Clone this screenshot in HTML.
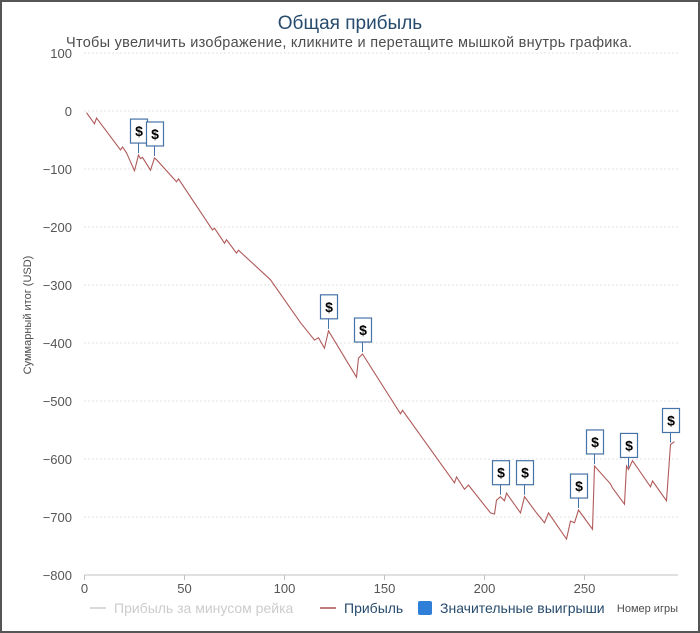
<!DOCTYPE html>
<html><head><meta charset="utf-8">
<style>
html,body{margin:0;padding:0;background:#fff;}
#wrap{position:relative;width:700px;height:633px;box-sizing:border-box;border:2px solid #555;overflow:hidden;font-family:"Liberation Sans","DejaVu Sans",sans-serif;}
svg{position:absolute;left:-2px;top:-2px;}
</style></head>
<body>
<div id="wrap">
<svg id="chart" width="700" height="633" viewBox="0 0 700 633">
  <text x="350" y="29" text-anchor="middle" font-size="19" fill="#274b6d">Общая прибыль</text>
  <text x="349" y="47" text-anchor="middle" font-size="14.5" fill="#4d4d4d" textLength="566">Чтобы увеличить изображение, кликните и перетащите мышкой внутрь графика.</text>
  <text transform="translate(31,315) rotate(-90)" text-anchor="middle" font-size="11" fill="#4d4d4d">Суммарный итог (USD)</text>
  <g id="grid"></g>
  <g id="yticks"></g>
  <g id="xticks"></g>
  <g id="series"></g>
  <g id="markers"></g>
  <g>
    <g>
      <line x1="90" y1="608" x2="106" y2="608" stroke="#ccc" stroke-width="1.5"/>
      <text x="114" y="613" font-size="14" fill="#ccc">Прибыль за минусом рейка</text>
    </g>
    <g>
      <line x1="320" y1="608" x2="336" y2="608" stroke="#a85050" stroke-width="1.5"/>
      <text x="344" y="613" font-size="14" fill="#274b6d">Прибыль</text>
    </g>
    <g>
      <rect x="418" y="601" width="14" height="14" rx="2" fill="#2f7ed8"/>
      <text x="440" y="613" font-size="14" fill="#274b6d">Значительные выигрыши</text>
    </g>
  </g>
  <text x="678" y="612" text-anchor="end" font-size="11" fill="#4d4d4d">Номер игры</text>
</svg>
</div>
<script>
const games  = [1,5,6,18,19,21,25,27,28,29,33,35,36,46,47,64,65,70,71,76,77,93,108,115,117,120,122,136,137,139,158,159,185,186,190,192,203,205,206,208,210,211,218,220,226,230,232,241,243,245,247,254,255,263,264,270,271,272,274,283,284,291,293,295];
const profit = [-3,-22,-12,-67,-62,-72,-103,-76,-82,-80,-102,-81,-84,-122,-117,-205,-202,-228,-222,-245,-240,-291,-365,-395,-391,-409,-379,-459,-426,-419,-522,-516,-641,-631,-652,-645,-693,-695,-671,-665,-672,-659,-693,-665,-693,-710,-693,-738,-707,-710,-688,-721,-612,-643,-650,-678,-612,-618,-603,-648,-638,-672,-575,-570];
const bigWinGames = [27,35,122,139,208,220,247,255,272,293];
const yTickVals = [100,0,-100,-200,-300,-400,-500,-600,-700,-800];
const xTickVals = [0,50,100,150,200,250];

const NS="http://www.w3.org/2000/svg";
const X0=84.5, XS=2.0, Y0=111, YS=0.58, XR=678;
function xPos(g){return X0+g*XS;}
function yPos(v){return Y0-v*YS;}
function mk(tag,attrs,parent){const e=document.createElementNS(NS,tag);for(const k in attrs)e.setAttribute(k,attrs[k]);parent.appendChild(e);return e;}

const grid=document.getElementById('grid'), yt=document.getElementById('yticks'), xt=document.getElementById('xticks');
yTickVals.forEach(v=>{
  const y=yPos(v);
  const ln=mk('line',{x1:X0,x2:XR,y1:y,y2:y,stroke:v===-800?'#c0c0c0':'#c8c8c8','stroke-width':1,'stroke-dasharray':v===-800?'':'1,3'},grid);
  
  
  const t=mk('text',{x:72,y:y+5,'text-anchor':'end','font-size':13,fill:'#555'},yt);
  t.textContent=(v<0?'\u2212':'')+Math.abs(v);
  
  
});
xTickVals.forEach(g=>{
  const x=xPos(g);
  const tk=mk('line',{x1:x,x2:x,y1:575,y2:580,stroke:'#c0c0c0'},xt);
  
  
  const t=mk('text',{x:x,y:593,'text-anchor':'middle','font-size':13,fill:'#555'},xt);
  t.textContent=g;
  
  
});

const series=document.getElementById('series');
const d=games.map((g,i)=>(i?'L':'M')+xPos(g).toFixed(1)+' '+yPos(profit[i]).toFixed(1)).join(' ');
const path=mk('path',{d:d,fill:'none',stroke:'#b05a5a','stroke-width':1.1},series);



const mg=document.getElementById('markers');
bigWinGames.forEach(g=>{
  const i=games.indexOf(g);
  const v=profit[i];
  const x=xPos(g), y=yPos(v);
  const grp=mk('g',{},mg);
  
  
  mk('line',{x1:x,x2:x,y1:y-2,y2:y-12,stroke:'#4572a7','stroke-width':1},grp);
  mk('rect',{x:x-8,y:y-36,width:17,height:24,fill:'#fff',stroke:'#4572a7','stroke-width':1.2},grp);
  const t=mk('text',{x:x+0.5,y:y-19,'text-anchor':'middle','font-size':14,'font-weight':'bold',fill:'#000'},grp);
  t.textContent='$';
});
</script>
</body></html>
